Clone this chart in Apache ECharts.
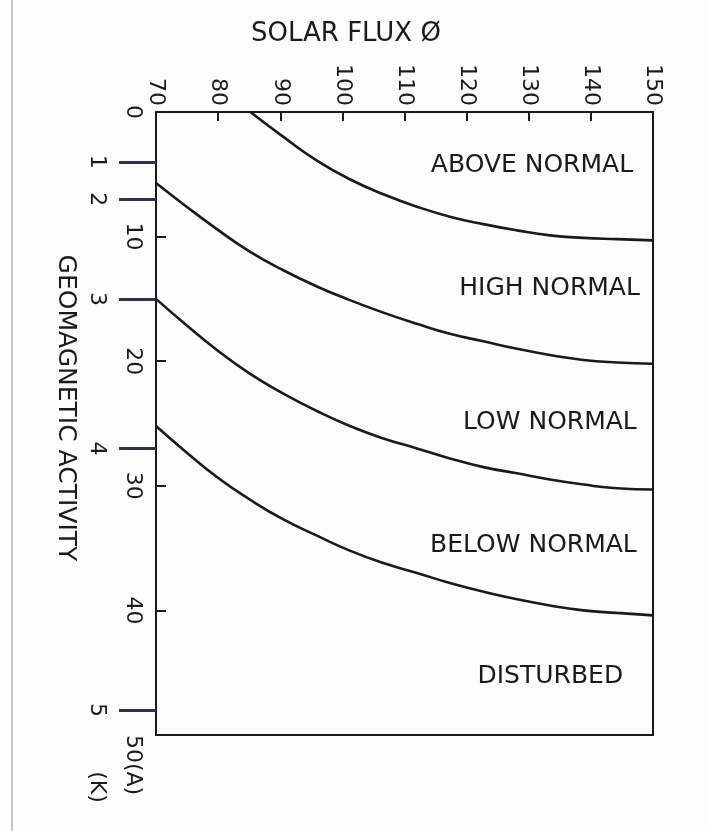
<!DOCTYPE html>
<html>
<head>
<meta charset="utf-8">
<script src="https://cdn.jsdelivr.net/npm/echarts@6/dist/echarts.min.js"></script>
<style>
html, body { margin: 0; padding: 0; background: #fcfcfc; }
#chart { width: 709px; height: 831px; }
</style>
</head>
<body>
<div id="chart"></div>
<script>
// ---- data ----
const fluxMin = 70, fluxMax = 150, fluxStep = 10;
const aMin = 0, aMax = 50, aStep = 10;

// K-index ticks expressed in A-index units
const kTickA = [4, 7, 15, 27, 48];
const kTickLabels = ['1', '2', '3', '4', '5'];

// Boundary curves: solar flux (x) vs geomagnetic A index (y)
const curve1Flux = [85.2, 90.5, 95.9, 101.2, 106.6, 112, 117.3, 122.7, 128.1, 133.4, 138.8, 144.2, 150];
const curve1A    = [0.0, 2.0, 3.9, 5.4, 6.6, 7.6, 8.4, 9.0, 9.5, 9.9, 10.1, 10.2, 10.3];

const curveFlux  = [70, 74.4, 79.8, 85.1, 90.5, 95.9, 101.2, 106.6, 112, 117.3, 122.7, 128.1, 133.4, 138.8, 144.2, 150];
const curve2A    = [5.7, 7.4, 9.4, 11.2, 12.7, 14.0, 15.1, 16.1, 17.0, 17.8, 18.4, 19.0, 19.5, 19.9, 20.1, 20.2];
const curve3A    = [15.0, 16.9, 19.1, 21.0, 22.6, 24.0, 25.2, 26.2, 27.0, 27.8, 28.5, 29.0, 29.5, 29.9, 30.2, 30.3];
const curve4A    = [25.2, 27.1, 29.3, 31.1, 32.7, 34.0, 35.2, 36.2, 37.0, 37.8, 38.5, 39.1, 39.6, 40.0, 40.2, 40.4];

// Region names and their anchor (right end of text) in data units
const regionNames = ['ABOVE NORMAL', 'HIGH NORMAL', 'LOW NORMAL', 'BELOW NORMAL', 'DISTURBED'];
const regionFlux  = [146.8, 147.9, 147.4, 147.4, 145.2];
const regionA     = [4.3, 14.2, 24.9, 34.8, 45.3];

// ---- chart ----
const FONT = 'DejaVu Sans';
const INK = '#1a1a1a';
const zip = (xs, ys) => xs.map((x, i) => [x, ys[i]]);

const lineSeries = (data) => ({
  type: 'line',
  data: data,
  xAxisIndex: 0,
  yAxisIndex: 0,
  smooth: 0.5,
  symbol: 'none',
  silent: true,
  lineStyle: { color: INK, width: 2.6 }
});

const chart = echarts.init(document.getElementById('chart'), null, { renderer: 'canvas' });
chart.setOption({
  backgroundColor: '#fcfcfc',
  animation: false,
  title: {
    text: 'SOLAR FLUX Ø',
    left: 246, top: 16,
    textStyle: { fontFamily: FONT, fontSize: 26, fontWeight: 'normal', color: INK }
  },
  grid: {
    left: 156, top: 112, width: 497, height: 623,
    show: true, borderColor: INK, borderWidth: 2, backgroundColor: 'transparent'
  },
  xAxis: {
    type: 'value', position: 'top',
    min: fluxMin, max: fluxMax, interval: fluxStep,
    axisLine: { show: true, lineStyle: { color: INK, width: 2 } },
    axisTick: { show: true, inside: true, length: 9, lineStyle: { color: INK, width: 2 } },
    axisLabel: { rotate: -90, margin: 6, fontFamily: FONT, fontSize: 22, color: INK },
    splitLine: { show: false }
  },
  yAxis: [
    {
      type: 'value', position: 'left', inverse: true,
      min: aMin, max: aMax, interval: aStep,
      axisLine: { show: true, lineStyle: { color: INK, width: 2 } },
      axisTick: { show: true, inside: true, length: 10, lineStyle: { color: INK, width: 2 } },
      axisLabel: {
        rotate: -90, margin: 12, fontFamily: FONT, fontSize: 22, color: INK,
        formatter: v => v === aMax ? '{e|' + v + '(A)}' : String(v),
        rich: { e: { padding: [0, 0, 0, 60], fontFamily: FONT, fontSize: 22, color: INK } }
      },
      splitLine: { show: false }
    },
    {
      type: 'value', position: 'left', inverse: true,
      min: aMin, max: aMax, interval: aStep,
      axisLine: { show: false },
      axisTick: { show: true, inside: false, length: 37, customValues: kTickA,
                  lineStyle: { color: '#2b3346', width: 3 } },
      axisLabel: {
        customValues: kTickA, rotate: -90, margin: 48,
        fontFamily: FONT, fontSize: 22, color: INK,
        formatter: v => kTickLabels[kTickA.indexOf(v)] || ''
      },
      splitLine: { show: false },
      name: 'GEOMAGNETIC ACTIVITY',
      nameLocation: 'middle', nameRotate: -90, nameGap: 78,
      nameTextStyle: { fontFamily: FONT, fontSize: 25, color: INK, padding: [0, 31, 0, 0] }
    }
  ],
  series: [
    lineSeries(zip(curve1Flux, curve1A)),
    lineSeries(zip(curveFlux, curve2A)),
    lineSeries(zip(curveFlux, curve3A)),
    lineSeries(zip(curveFlux, curve4A)),
    {
      type: 'scatter',
      data: zip(regionFlux, regionA),
      symbolSize: 0.1,
      itemStyle: { color: INK, opacity: 1 },
      silent: true,
      label: {
        show: true, position: 'left', distance: 0, opacity: 1,
        formatter: p => regionNames[p.dataIndex],
        fontFamily: FONT, fontSize: 25, color: INK
      }
    }
  ],
  graphic: [
    { type: 'line', shape: { x1: 12, y1: 0, x2: 12, y2: 831 }, style: { stroke: '#b4b4b4', lineWidth: 1.5 }, silent: true },
    { type: 'text', x: 97, y: 787, rotation: -Math.PI / 2,
      style: { text: '(K)', font: '22px "DejaVu Sans"', fill: INK,
               align: 'center', verticalAlign: 'middle', textAlign: 'center', textVerticalAlign: 'middle' } }
  ]
});
</script>
</body>
</html>
